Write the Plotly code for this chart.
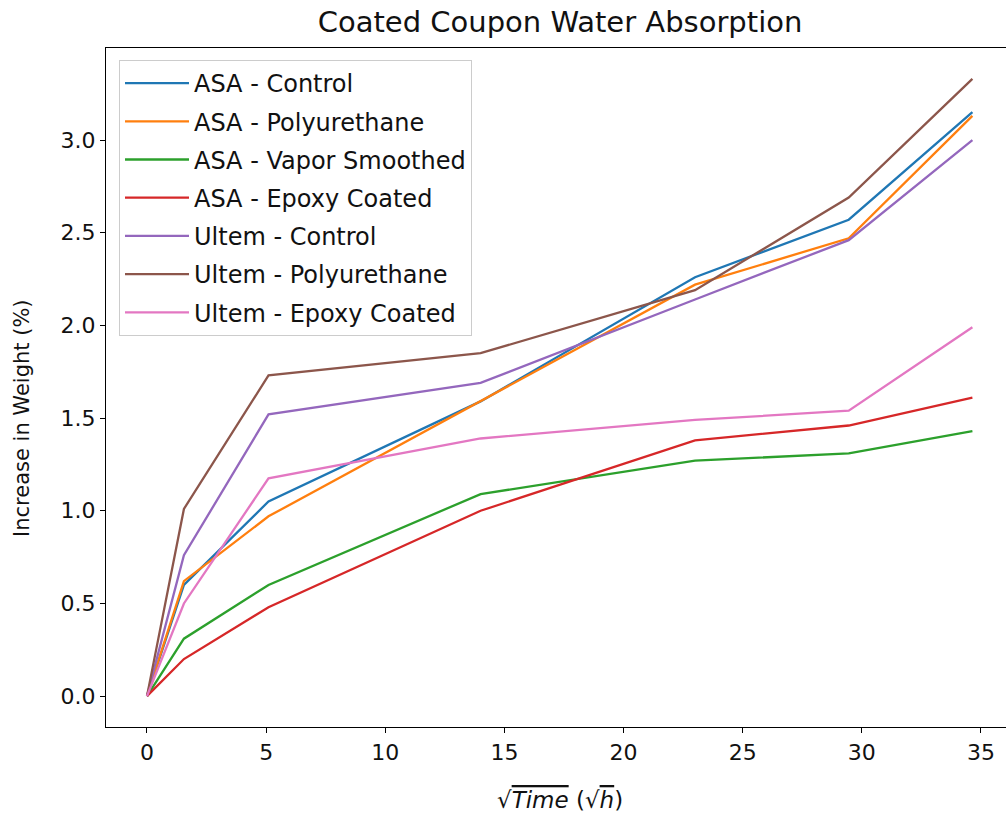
import plotly.graph_objects as go

# sqrt(time) in sqrt(h)
sqrt_time = [0, 1.55, 5.1, 14.0, 23.0, 29.45, 34.64]

series_names = [
    "ASA - Control",
    "ASA - Polyurethane",
    "ASA - Vapor Smoothed",
    "ASA - Epoxy Coated",
    "Ultem - Control",
    "Ultem - Polyurethane",
    "Ultem - Epoxy Coated",
]

asa_control = [0, 0.60, 1.05, 1.59, 2.26, 2.57, 3.15]
asa_polyurethane = [0, 0.62, 0.97, 1.59, 2.22, 2.47, 3.13]
asa_vapor_smoothed = [0, 0.31, 0.60, 1.09, 1.27, 1.31, 1.43]
asa_epoxy = [0, 0.20, 0.48, 1.00, 1.38, 1.46, 1.61]
ultem_control = [0, 0.76, 1.52, 1.69, 2.14, 2.46, 3.00]
ultem_polyurethane = [0, 1.01, 1.73, 1.85, 2.19, 2.69, 3.33]
ultem_epoxy = [0, 0.50, 1.175, 1.39, 1.49, 1.54, 1.99]

series_values = [asa_control, asa_polyurethane, asa_vapor_smoothed, asa_epoxy,
                 ultem_control, ultem_polyurethane, ultem_epoxy]

colors = ["#1f77b4", "#ff7f0e", "#2ca02c", "#d62728", "#9467bd", "#8c564b", "#e377c2"]

x_ticks = [0, 5, 10, 15, 20, 25, 30, 35]
y_ticks = [0.0, 0.5, 1.0, 1.5, 2.0, 2.5, 3.0]

title_text = "Coated Coupon Water Absorption"
x_title = ("√<i><span style='text-decoration:overline'>Time</span></i>"
           " (√<i><span style='text-decoration:overline'>h</span></i>)")
y_title = "Increase in Weight (%)"

FONT = "DejaVu Sans"

fig = go.Figure()
for i, (name, vals) in enumerate(zip(series_names, series_values)):
    fig.add_trace(go.Scatter(
        x=sqrt_time, y=vals, mode="lines", name=name,
        line=dict(color=colors[i], width=2.3),
        legendgroup=f"g{i}",
    ))

W, H = 1006, 817
L, R, T, B = 106, 0, 48, 90
PW, PH = W - L - R, H - T - B

fig.update_layout(
    width=W, height=H,
    margin=dict(l=L, r=R, t=T, b=B, pad=0),
    paper_bgcolor="white", plot_bgcolor="white",
    font=dict(family=FONT, color="black", size=22),
    title=dict(text=title_text, x=(560 - L) / PW, xref="paper",
               xanchor="center", y=1 - 22 / H, yanchor="middle", yref="container",
               font=dict(size=29, family=FONT, color="#111111")),
    xaxis=dict(
        range=[-1.72, 36.05], tickvals=x_ticks, ticktext=[str(v) for v in x_ticks],
        showgrid=False, zeroline=False, showline=True, linecolor="black", linewidth=1.2,
        mirror=True, ticks="outside", ticklen=5, tickwidth=1.2, tickcolor="black",
        tickfont=dict(size=22, family=FONT, color="#111111"),
    ),
    yaxis=dict(
        range=[-0.1665, 3.4965], tickvals=y_ticks, ticktext=[f"{v:.1f}" for v in y_ticks],
        showgrid=False, zeroline=False, showline=True, linecolor="black", linewidth=1.2,
        mirror=False, ticks="outside", ticklen=5, tickwidth=1.2, tickcolor="black",
        tickfont=dict(size=22, family=FONT, color="#111111"),
    ),
    legend=dict(
        x=(119 - L) / PW, y=(H - B - 60) / PH, xanchor="left", yanchor="top",
        bgcolor="rgba(255,255,255,0.8)", bordercolor="#cccccc", borderwidth=1,
        font=dict(size=24, family=FONT, color="#111111"), tracegroupgap=4, itemwidth=64,
    ),
    showlegend=True,
    annotations=[
        dict(text=x_title, xref="paper", yref="paper", x=(560 - L) / PW, y=-(800 - (H - B)) / PH,
             xanchor="center", yanchor="middle", showarrow=False,
             font=dict(size=23, family=FONT, color="#111111")),
        dict(text=y_title, xref="paper", yref="paper", x=-(L - 22) / PW, y=(H - B - 418) / PH,
             xanchor="center", yanchor="middle", showarrow=False, textangle=-90,
             font=dict(size=21, family=FONT, color="#111111")),
    ],
)

fig.write_html("out.html")
